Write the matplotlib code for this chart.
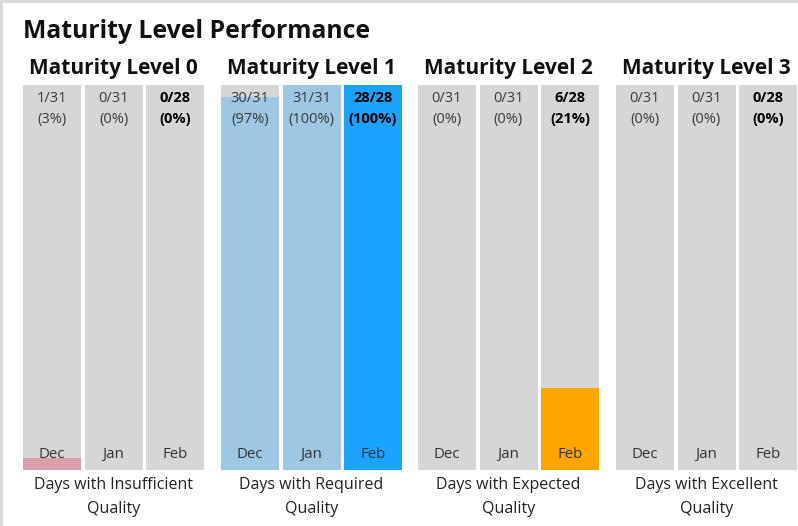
import matplotlib
matplotlib.use("Agg")
import matplotlib.pyplot as plt
from matplotlib.patches import Rectangle

plt.rcParams['font.family'] = ['Open Sans', 'DejaVu Sans']

title = "Maturity Level Performance"
levels = ["Maturity Level 0", "Maturity Level 1", "Maturity Level 2", "Maturity Level 3"]
bottom_labels = ["Days with Insufficient\nQuality", "Days with Required\nQuality",
                 "Days with Expected\nQuality", "Days with Excellent\nQuality"]
months = ["Dec", "Jan", "Feb"]
days_total = [31, 31, 28]
days_hit = [
    [1, 0, 0],
    [30, 31, 28],
    [0, 0, 6],
    [0, 0, 0],
]
fill_colors = [
    ["#d9a0ab", "#d9a0ab", "#d9a0ab"],
    ["#9dc7e2", "#9dc7e2", "#1aa3ff"],
    ["#ffa500", "#ffa500", "#ffa500"],
    ["#9dc7e2", "#9dc7e2", "#9dc7e2"],
]
bg_color = "#d6d6d6"

W, H = 798, 526
fig = plt.figure(figsize=(W / 100, H / 100), dpi=100)
fig.patch.set_facecolor("white")

# light frame on top and left
fig.add_artist(Rectangle((0, 1 - 3 / H), 1, 3 / H, transform=fig.transFigure,
                         color="#d9d9d9", lw=0))
fig.add_artist(Rectangle((0, 0), 3 / W, 1, transform=fig.transFigure,
                         color="#d9d9d9", lw=0))

fig.text(23 / W, 1 - 38 / H, title, fontsize=17.8, fontweight="bold",
         color="#111111", ha="left", va="baseline")

group_left = [23, 221, 418, 616]
group_w = 181
bar_w = 58 / 61.5
y_bot, y_top = 470, 85
ax_h = (y_bot - y_top)


def ypos(px):
    return (y_bot - px) / ax_h


for g in range(4):
    ax = fig.add_axes([group_left[g] / W, 1 - y_bot / H, group_w / W, ax_h / H])
    ax.set_xlim(-bar_w / 2, 2 + bar_w / 2)
    ax.set_ylim(0, 1)
    ax.axis("off")
    for i in range(3):
        frac = days_hit[g][i] / days_total[i]
        ax.bar(i, 1, width=bar_w, color=bg_color, align="center", lw=0)
        if frac > 0:
            ax.bar(i, frac, width=bar_w, color=fill_colors[g][i], align="center", lw=0)
        bold = (i == 2)
        col = "#000000" if bold else "#3a3a3a"
        fw = "bold" if bold else "normal"
        ax.text(i, ypos(102), f"{days_hit[g][i]}/{days_total[i]}",
                ha="center", va="baseline", fontsize=10.5, color=col, fontweight=fw)
        ax.text(i, ypos(123), f"({round(frac * 100)}%)",
                ha="center", va="baseline", fontsize=10.5, color=col, fontweight=fw)
        ax.text(i, ypos(458), months[i], ha="center", va="baseline",
                fontsize=10.8, color="#333333")
    ax.text(1, ypos(74), levels[g], ha="center", va="baseline",
            fontsize=15, fontweight="bold", color="#111111", clip_on=False)
    line1, line2 = bottom_labels[g].split("\n")
    ax.text(1, ypos(489), line1, ha="center", va="baseline",
            fontsize=11.5, color="#222222", clip_on=False)
    ax.text(1, ypos(513), line2, ha="center", va="baseline",
            fontsize=11.5, color="#222222", clip_on=False)

fig.savefig("out.png", dpi=100, facecolor="white")
